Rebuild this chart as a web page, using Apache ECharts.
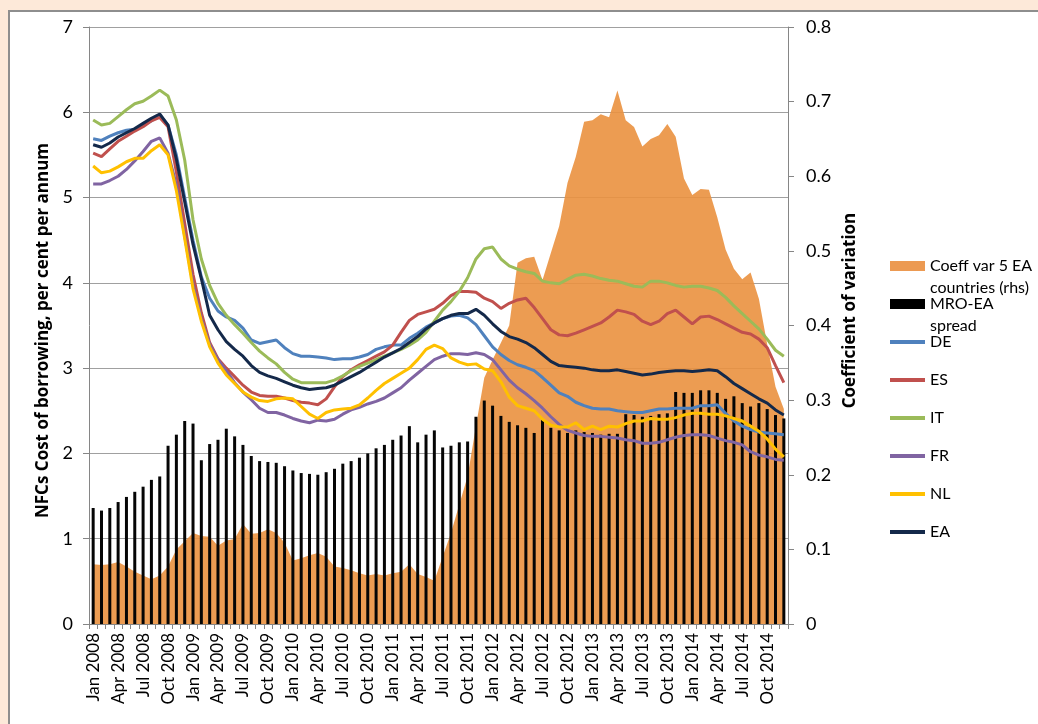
<!DOCTYPE html>
<html>
<head>
<meta charset="utf-8">
<script src="https://cdn.jsdelivr.net/npm/echarts@6.0.0/dist/echarts.min.js"></script>
<style>
  body { margin: 0; background: #FDE9D9; width: 1038px; height: 724px; overflow: hidden; }
  #frame { position: absolute; left: 8px; top: 10px; width: 1040px; height: 720px; background: #fff;
           border-left: 2px solid #8E8E8E; border-top: 2px solid #8E8E8E; }
  #main { position: absolute; left: 0; top: 0; width: 1038px; height: 724px; }
</style>
</head>
<body>
<div id="frame"></div>
<div id="main"></div>
<script>
// 月份标签 Jan 2008 .. Dec 2014
var monthNames = ['Jan', 'Feb', 'Mar', 'Apr', 'May', 'Jun', 'Jul', 'Aug', 'Sep', 'Oct', 'Nov', 'Dec'];
var years = [2008, 2009, 2010, 2011, 2012, 2013, 2014];
var months = [];
for (var y = 0; y < years.length; y++) {
    for (var m = 0; m < monthNames.length; m++) {
        months.push(monthNames[m] + ' ' + years[y]);
    }
}

// 右轴: 变异系数 (面积)
var coeffVar = [
    0.080, 0.079, 0.080, 0.083, 0.077, 0.070, 0.065, 0.060, 0.065, 0.077,
    0.100, 0.111, 0.122, 0.118, 0.117, 0.105, 0.112, 0.114, 0.134, 0.121,
    0.122, 0.127, 0.122, 0.109, 0.085, 0.088, 0.092, 0.095, 0.090, 0.077,
    0.075, 0.072, 0.068, 0.065, 0.067, 0.065, 0.068, 0.070, 0.080, 0.067,
    0.063, 0.058, 0.090, 0.122, 0.160, 0.198, 0.265, 0.330, 0.354, 0.377,
    0.400, 0.484, 0.490, 0.492, 0.461, 0.497, 0.533, 0.591, 0.626, 0.673,
    0.675, 0.683, 0.679, 0.715, 0.675, 0.666, 0.640, 0.650, 0.655, 0.670,
    0.653, 0.597, 0.575, 0.583, 0.582, 0.545, 0.502, 0.476, 0.462, 0.471,
    0.436, 0.375, 0.318, 0.288
];

// 左轴: MRO-EA spread (柱)
var mroSpread = [
    1.36, 1.33, 1.36, 1.43, 1.49, 1.55, 1.61, 1.69, 1.73, 2.09,
    2.22, 2.38, 2.35, 1.92, 2.11, 2.16, 2.29, 2.20, 2.10, 1.97,
    1.91, 1.90, 1.89, 1.85, 1.80, 1.77, 1.76, 1.75, 1.78, 1.82,
    1.88, 1.91, 1.95, 2.00, 2.06, 2.10, 2.16, 2.21, 2.32, 2.13,
    2.22, 2.27, 2.07, 2.09, 2.13, 2.14, 2.43, 2.62, 2.56, 2.44,
    2.37, 2.33, 2.30, 2.24, 2.40, 2.30, 2.27, 2.24, 2.27, 2.25,
    2.24, 2.22, 2.23, 2.23, 2.46, 2.45, 2.43, 2.44, 2.46, 2.47,
    2.72, 2.71, 2.71, 2.74, 2.74, 2.71, 2.64, 2.67, 2.59, 2.55,
    2.59, 2.52, 2.45, 2.41
];

// 各国融资成本 (左轴)
var deRate = [
    5.69, 5.67, 5.72, 5.76, 5.79, 5.80, 5.85, 5.90, 5.97, 5.85,
    5.50, 5.00, 4.50, 4.07, 3.82, 3.67, 3.60, 3.56, 3.47, 3.33,
    3.29, 3.31, 3.33, 3.24, 3.17, 3.14, 3.14, 3.13, 3.12, 3.10,
    3.11, 3.11, 3.13, 3.16, 3.22, 3.25, 3.27, 3.27, 3.35, 3.41,
    3.48, 3.53, 3.58, 3.61, 3.62, 3.59, 3.51, 3.38, 3.25, 3.16,
    3.09, 3.04, 3.01, 2.97, 2.89, 2.80, 2.71, 2.67, 2.60, 2.56,
    2.53, 2.52, 2.52, 2.50, 2.49, 2.48, 2.48, 2.50, 2.52, 2.52,
    2.53, 2.53, 2.53, 2.56, 2.56, 2.57, 2.47, 2.38, 2.32, 2.28,
    2.25, 2.24, 2.23, 2.22
];
var esRate = [
    5.52, 5.48, 5.57, 5.66, 5.72, 5.78, 5.83, 5.90, 5.94, 5.83,
    5.30, 4.70, 4.10, 3.65, 3.30, 3.11, 3.00, 2.90, 2.80, 2.72,
    2.68, 2.67, 2.67, 2.65, 2.62, 2.60, 2.59, 2.57, 2.64, 2.78,
    2.90, 2.98, 3.04, 3.09, 3.14, 3.19, 3.27, 3.42, 3.56, 3.63,
    3.66, 3.69, 3.76, 3.85, 3.90, 3.90, 3.89, 3.82, 3.78, 3.70,
    3.76, 3.80, 3.82, 3.71, 3.58, 3.45, 3.39, 3.38, 3.41, 3.45,
    3.49, 3.53, 3.60, 3.68, 3.66, 3.63, 3.55, 3.51, 3.55, 3.64,
    3.68, 3.60, 3.52, 3.60, 3.61, 3.57, 3.52, 3.47, 3.42, 3.40,
    3.34, 3.24, 3.03, 2.83
];
var itRate = [
    5.91, 5.85, 5.87, 5.95, 6.03, 6.10, 6.13, 6.19, 6.26, 6.19,
    5.91, 5.44, 4.74, 4.28, 3.97, 3.76, 3.62, 3.51, 3.41, 3.30,
    3.20, 3.12, 3.05, 2.95, 2.87, 2.83, 2.83, 2.83, 2.83, 2.86,
    2.91, 2.97, 3.02, 3.06, 3.10, 3.14, 3.18, 3.22, 3.27, 3.33,
    3.42, 3.55, 3.68, 3.78, 3.90, 4.06, 4.28, 4.40, 4.42, 4.28,
    4.20, 4.16, 4.13, 4.11, 4.02, 4.00, 3.99, 4.04, 4.09, 4.10,
    4.08, 4.05, 4.03, 4.02, 3.99, 3.96, 3.95, 4.02, 4.02, 4.00,
    3.97, 3.95, 3.96, 3.96, 3.94, 3.91, 3.83, 3.73, 3.64, 3.55,
    3.46, 3.34, 3.21, 3.14
];
var frRate = [
    5.16, 5.16, 5.20, 5.25, 5.33, 5.43, 5.54, 5.66, 5.70, 5.52,
    5.15, 4.55, 3.98, 3.58, 3.28, 3.10, 2.97, 2.83, 2.72, 2.63,
    2.53, 2.48, 2.48, 2.45, 2.41, 2.38, 2.36, 2.39, 2.38, 2.40,
    2.46, 2.51, 2.54, 2.58, 2.61, 2.65, 2.71, 2.77, 2.86, 2.94,
    3.02, 3.10, 3.14, 3.17, 3.17, 3.16, 3.18, 3.16, 3.10, 2.98,
    2.86, 2.77, 2.70, 2.62, 2.53, 2.43, 2.34, 2.27, 2.24, 2.21,
    2.20, 2.20, 2.19, 2.18, 2.16, 2.15, 2.12, 2.12, 2.13, 2.16,
    2.19, 2.21, 2.22, 2.22, 2.21, 2.18, 2.15, 2.13, 2.10, 2.02,
    1.98, 1.96, 1.93, 1.92
];
var nlRate = [
    5.37, 5.29, 5.31, 5.36, 5.42, 5.46, 5.46, 5.55, 5.62, 5.50,
    5.08, 4.52, 3.93, 3.55, 3.25, 3.06, 2.92, 2.82, 2.72, 2.66,
    2.62, 2.61, 2.64, 2.65, 2.64, 2.55, 2.46, 2.41, 2.48, 2.51,
    2.52, 2.53, 2.57, 2.65, 2.74, 2.82, 2.88, 2.94, 3.00, 3.10,
    3.22, 3.27, 3.23, 3.12, 3.07, 3.04, 3.05, 2.99, 2.97, 2.84,
    2.66, 2.56, 2.53, 2.50, 2.40, 2.33, 2.31, 2.31, 2.36, 2.28,
    2.32, 2.28, 2.32, 2.31, 2.35, 2.38, 2.38, 2.41, 2.40, 2.40,
    2.42, 2.45, 2.47, 2.47, 2.46, 2.46, 2.44, 2.41, 2.38, 2.32,
    2.26, 2.17, 2.05, 1.96
];
var eaRate = [
    5.62, 5.59, 5.64, 5.71, 5.76, 5.81, 5.87, 5.93, 5.98, 5.85,
    5.45, 4.95, 4.45, 4.05, 3.62, 3.45, 3.31, 3.22, 3.14, 3.03,
    2.95, 2.91, 2.88, 2.84, 2.80, 2.77, 2.75, 2.76, 2.77, 2.80,
    2.85, 2.90, 2.95, 3.01, 3.07, 3.13, 3.18, 3.23, 3.30, 3.37,
    3.46, 3.53, 3.58, 3.62, 3.64, 3.64, 3.69, 3.62, 3.52, 3.43,
    3.37, 3.34, 3.30, 3.24, 3.16, 3.08, 3.03, 3.02, 3.01, 3.00,
    2.98, 2.97, 2.97, 2.98, 2.96, 2.94, 2.92, 2.93, 2.95, 2.96,
    2.97, 2.97, 2.96, 2.97, 2.98, 2.97, 2.90, 2.82, 2.76, 2.70,
    2.64, 2.59, 2.51, 2.45
];

var cFont = 'Lato, "Open Sans", sans-serif';
var cNameFont = '"Open Sans", Lato, sans-serif';
var aoLines = [
    { name: 'DE', data: deRate, color: '#4F81BD' },
    { name: 'ES', data: esRate, color: '#C0504D' },
    { name: 'IT', data: itRate, color: '#9BBB59' },
    { name: 'FR', data: frRate, color: '#8064A2' },
    { name: 'NL', data: nlRate, color: '#FFC000' },
    { name: 'EA', data: eaRate, color: '#14294A' }
];

var aoSer = [{
    name: 'Coeff var 5 EA countries (rhs)',
    type: 'line',
    yAxisIndex: 1,
    data: coeffVar,
    symbol: 'none',
    silent: true,
    z: 1,
    lineStyle: { width: 0 },
    itemStyle: { color: '#EC9A52' },
    areaStyle: { color: '#EA913F', opacity: 0.9 }
}, {
    name: 'MRO-EA spread',
    type: 'bar',
    yAxisIndex: 0,
    data: mroSpread,
    barWidth: 3,
    silent: true,
    z: 2,
    itemStyle: { color: '#050505' }
}];
var aoLegLines = [];
for (var i = 0; i < aoLines.length; i++) {
    aoSer.push({
        name: aoLines[i].name,
        type: 'line',
        yAxisIndex: 0,
        data: aoLines[i].data,
        symbol: 'none',
        silent: true,
        z: 3,
        itemStyle: { color: aoLines[i].color },
        lineStyle: { color: aoLines[i].color, width: 3 }
    });
    aoLegLines.push({ name: aoLines[i].name, icon: 'rect', itemStyle: { color: aoLines[i].color } });
}

var oLegText = { fontFamily: cFont, fontSize: 16, color: '#000', lineHeight: 22 };
var oOpt = {
    animation: false,
    textStyle: { fontFamily: cFont },
    legend: [{
        left: 890, top: 233, padding: 0, orient: 'vertical', itemWidth: 35, itemHeight: 10,
        selectedMode: false, textStyle: oLegText,
        data: [{ name: 'Coeff var 5 EA countries (rhs)', icon: 'rect', itemStyle: { color: '#EC9A52' } }],
        formatter: function () { return '\nCoeff var 5 EA\ncountries (rhs)'; }
    }, {
        left: 890, top: 271, padding: 0, orient: 'vertical', itemWidth: 35, itemHeight: 10,
        selectedMode: false, textStyle: oLegText,
        data: [{ name: 'MRO-EA spread', icon: 'rect', itemStyle: { color: '#000' } }],
        formatter: function () { return '\nMRO-EA\nspread'; }
    }, {
        left: 890, top: 331, padding: 0, orient: 'vertical', itemWidth: 35, itemHeight: 4, itemGap: 16,
        selectedMode: false, textStyle: oLegText,
        data: aoLegLines
    }],
    grid: { left: 89, top: 27, right: 250, bottom: 100, containLabel: false },
    xAxis: {
        type: 'category',
        data: months,
        boundaryGap: true,
        axisLine: { lineStyle: { color: '#868686', width: 1 } },
        axisTick: { show: true, interval: 0, length: 5, lineStyle: { color: '#868686' } },
        axisLabel: { interval: 2, rotate: 90, fontSize: 17, color: '#000', margin: 9, fontFamily: cFont },
        splitLine: { show: false }
    },
    yAxis: [{
        type: 'value',
        position: 'left',
        min: 0, max: 7, interval: 1,
        name: 'NFCs Cost of borrowing, per cent per annum',
        nameLocation: 'middle',
        nameGap: 33,
        nameTextStyle: { fontWeight: 'bold', fontSize: 17, color: '#000', fontFamily: cNameFont, padding: [0, 10, 0, 0] },
        axisLine: { show: true, lineStyle: { color: '#868686', width: 1 } },
        axisTick: { show: true, length: 6, lineStyle: { color: '#868686' } },
        axisLabel: { fontSize: 18, color: '#000', margin: 16, fontFamily: cFont },
        splitLine: { show: true, lineStyle: { color: '#A0A0A0', width: 1.2 } }
    }, {
        type: 'value',
        position: 'right',
        min: 0, max: 0.8, interval: 0.1,
        name: 'Coefficient of variation',
        nameLocation: 'middle',
        nameGap: 52,
        nameTextStyle: { fontWeight: 'bold', fontSize: 17, color: '#000', fontFamily: cNameFont, padding: [0, 0, 0, 30] },
        axisLine: { show: true, lineStyle: { color: '#868686', width: 1 } },
        axisTick: { show: true, length: 6, lineStyle: { color: '#868686' } },
        axisLabel: {
            fontSize: 18, color: '#000', margin: 18, fontFamily: cFont,
            formatter: function (v) { return v === 0 ? '0' : v.toFixed(1); }
        },
        splitLine: { show: false }
    }],
    series: aoSer
};

var oChart = echarts.init(document.getElementById('main'), null, { renderer: 'canvas' });
oChart.setOption(oOpt);
</script>
</body>
</html>
